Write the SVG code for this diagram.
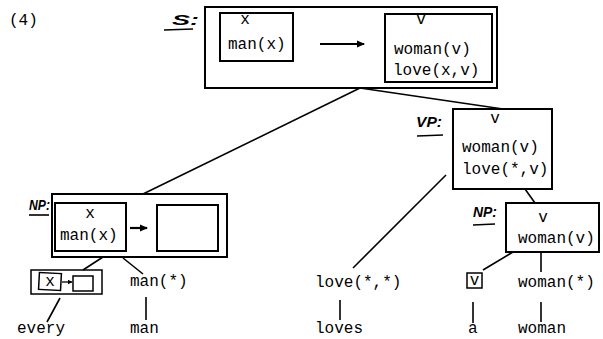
<svg xmlns="http://www.w3.org/2000/svg" width="603" height="339" viewBox="0 0 603 339">
<style>
  .t { font-family: "Liberation Mono", "DejaVu Sans Mono", monospace; font-size: 16px; fill: #000; }
  .m { text-anchor: middle; }
  .lab { font-family: "Liberation Sans", "DejaVu Sans", sans-serif; font-style: italic; font-weight: bold; font-size: 14px; fill: #000; }
  .box { fill: none; stroke: #000; stroke-width: 2; }
  .thin { fill: none; stroke: #000; stroke-width: 1.5; }
  .ln { fill: none; stroke: #000; stroke-width: 1.6; }
</style>
<defs>
  <marker id="ah" markerWidth="8" markerHeight="8" refX="7" refY="4" orient="auto" markerUnits="userSpaceOnUse">
    <path d="M0,0.5 L8,4 L0,7.5 Z" fill="#000"/>
  </marker>
  <marker id="ahs" markerWidth="5" markerHeight="5" refX="4.5" refY="2.5" orient="auto" markerUnits="userSpaceOnUse">
    <path d="M0,0 L5,2.5 L0,5 Z" fill="#000"/>
  </marker>
</defs>
<rect width="603" height="339" fill="#fff"/>

<text class="t" x="9" y="25" font-size="15">(4)</text>

<g id="S">
  <text class="lab" x="172" y="25" font-size="22" textLength="27" lengthAdjust="spacingAndGlyphs">S:</text>
  <line class="ln" x1="164" y1="30" x2="193" y2="29"/>
  <rect class="box" x="205" y="7" width="292" height="81"/>
  <rect class="box" x="220" y="13" width="73" height="48"/>
  <text class="t m" x="245" y="24">x</text>
  <text class="t" x="228" y="49">man(x)</text>
  <line x1="320" y1="44" x2="364" y2="44" stroke="#000" stroke-width="2" marker-end="url(#ah)"/>
  <rect class="box" x="385" y="14" width="107" height="68"/>
  <text class="t m" x="421" y="24">v</text>
  <text class="t" x="394" y="54">woman(v)</text>
  <text class="t" x="393" y="75">love(x,v)</text>
</g>

<g id="NP1">
  <text class="lab" x="29" y="210" textLength="21" lengthAdjust="spacingAndGlyphs">NP:</text>
  <line class="ln" x1="29" y1="215" x2="49" y2="215"/>
  <rect class="box" x="52" y="194" width="175" height="63"/>
  <rect class="box" x="55" y="203" width="71" height="48"/>
  <text class="t m" x="90" y="218">x</text>
  <text class="t" x="60" y="240">man(x)</text>
  <line x1="130" y1="228" x2="147" y2="228" stroke="#000" stroke-width="2.2" marker-end="url(#ah)"/>
  <rect class="box" x="157" y="205" width="61" height="46"/>
</g>

<g id="every-sem">
  <rect class="thin" x="31" y="270" width="71" height="24"/>
  <rect class="thin" x="39" y="273" width="22" height="17" transform="rotate(3 50 281)"/>
  <text class="t m" x="50" y="286" font-size="14">x</text>
  <line x1="62" y1="282" x2="72" y2="282" stroke="#000" stroke-width="1.3" marker-end="url(#ahs)"/>
  <rect class="thin" x="73" y="276" width="20" height="15"/>
</g>

<g id="man-sem"><text class="t" x="130" y="286">man(*)</text></g>
<g id="every"><text class="t" x="17" y="333">every</text></g>
<g id="man"><text class="t" x="130" y="333">man</text></g>

<g id="VP">
  <text class="lab" x="416" y="127" textLength="26" lengthAdjust="spacingAndGlyphs">VP:</text>
  <line class="ln" x1="417" y1="136" x2="443" y2="135"/>
  <rect class="box" x="453" y="109" width="99" height="80"/>
  <text class="t m" x="495" y="123">v</text>
  <text class="t" x="462" y="152">woman(v)</text>
  <text class="t" x="462" y="174">love(*,v)</text>
</g>

<g id="NP2">
  <text class="lab" x="473" y="217" textLength="24" lengthAdjust="spacingAndGlyphs">NP:</text>
  <line class="ln" x1="473" y1="225" x2="495" y2="224"/>
  <rect class="box" x="506" y="203" width="93" height="49"/>
  <text class="t m" x="543" y="222">v</text>
  <text class="t" x="518" y="243">woman(v)</text>
</g>

<g id="love-sem"><text class="t" x="315" y="287">love(*,*)</text></g>
<g id="loves"><text class="t" x="315" y="333">loves</text></g>

<g id="a-sem">
  <rect class="thin" x="467" y="273" width="15" height="15"/>
  <text class="t m" x="474.5" y="285" font-size="14">v</text>
</g>
<g id="woman-sem"><text class="t" x="518" y="287">woman(*)</text></g>
<g id="a"><text class="t" x="468" y="333">a</text></g>
<g id="woman"><text class="t" x="518" y="333">woman</text></g>

<g id="connectors">
  <line class="ln" x1="360" y1="88" x2="143" y2="194"/>
  <line class="ln" x1="360" y1="88" x2="503" y2="109"/>
  <line class="ln" x1="103" y1="257" x2="83" y2="270"/>
  <line class="ln" x1="123" y1="258" x2="143" y2="274"/>
  <line class="ln" x1="60" y1="298" x2="47" y2="322"/>
  <line class="ln" x1="146" y1="297" x2="146" y2="320"/>
  <line class="ln" x1="446" y1="175" x2="353" y2="268"/>
  <line class="ln" x1="340" y1="300" x2="340" y2="320"/>
  <line class="ln" x1="525" y1="189" x2="535" y2="203"/>
  <line class="ln" x1="513" y1="252" x2="483" y2="270"/>
  <line class="ln" x1="541" y1="252" x2="541" y2="272"/>
  <line class="ln" x1="473" y1="302" x2="473" y2="323"/>
  <line class="ln" x1="541" y1="302" x2="541" y2="322"/>
</g>
</svg>
